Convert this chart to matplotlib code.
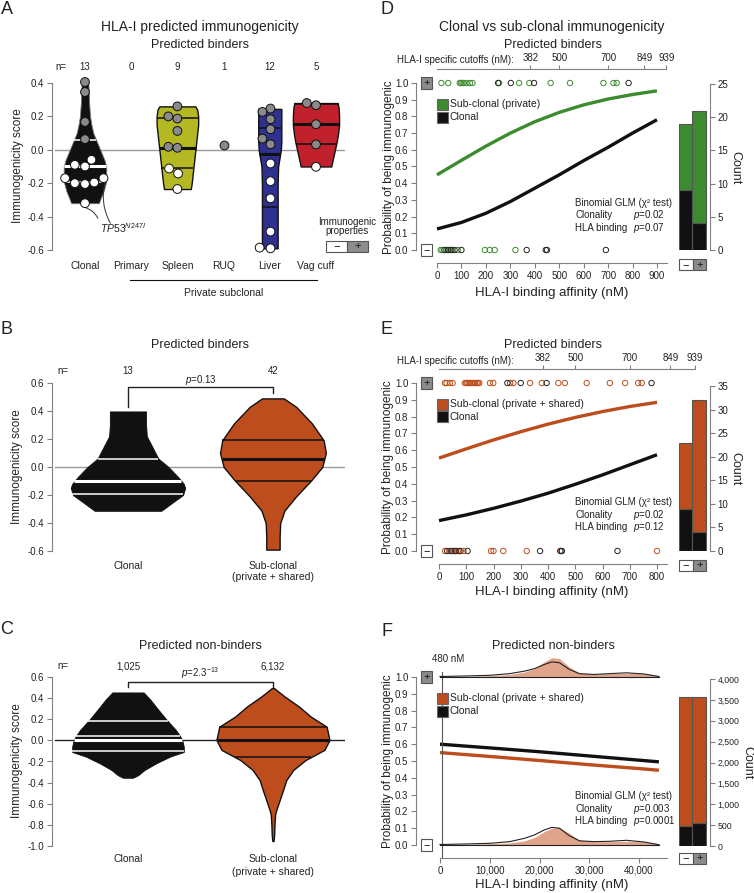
import numpy as np
import matplotlib
matplotlib.use('Agg')
import matplotlib.pyplot as plt
from matplotlib.patches import Rectangle

plt.rcParams['font.family'] = ['Liberation Sans', 'DejaVu Sans']
plt.rcParams['axes.unicode_minus'] = False
plt.rcParams['mathtext.fontset'] = 'custom'
plt.rcParams['mathtext.it'] = 'Liberation Sans:italic'
plt.rcParams['mathtext.rm'] = 'Liberation Sans'

# ---------------- data ----------------
BLACK = '#111111'
ORANGE = '#bd4d1c'
GREEN = '#3d8b2f'
SALMON = '#e0a48b'
GREYPT = '#8a8a8a'

# panel A
cats_a = ['Clonal', 'Primary', 'Spleen', 'RUQ', 'Liver', 'Vag cuff']
n_a = ['13', '0', '9', '1', '12', '5']
ticks_a = [-0.6, -0.4, -0.2, 0.0, 0.2, 0.4]

clonal_score = [0.406, 0.346, 0.167, 0.064, -0.09, -0.10, -0.06, -0.17, -0.20, -0.205, -0.196, -0.17, -0.32]
clonal_jit = [0, 0, 0, 0, -0.22, 0.0, 0.14, -0.43, -0.22, 0.0, 0.2, 0.4, 0.0]
clonal_imm = [1, 1, 1, 1, 0, 0, 0, 0, 0, 0, 0, 0, 0]
spleen_score = [0.26, 0.20, 0.187, 0.113, 0.018, 0.012, -0.112, -0.142, -0.235]
spleen_jit = [0, -0.195, 0, 0, -0.195, 0, -0.18, 0.015, 0]
spleen_imm = [1, 1, 1, 1, 1, 1, 0, 0, 0]
ruq_score = [0.026]
ruq_jit = [0]
ruq_imm = [1]
liver_score = [0.247, 0.227, 0.183, 0.123, 0.067, 0.033, -0.082, -0.188, -0.291, -0.49, -0.586, -0.59]
liver_jit = [0.015, -0.16, 0.015, 0.015, -0.16, 0.015, 0.015, 0.015, 0.015, 0.015, -0.22, 0.015]
liver_imm = [1, 1, 1, 1, 1, 1, 0, 0, 0, 0, 0, 0]
vag_score = [0.28, 0.267, 0.153, 0.032, -0.102]
vag_jit = [-0.2, 0, 0, 0, 0]
vag_imm = [1, 1, 1, 1, 0]

# violin outlines (score, half width) and quartiles (q1, median, q3)
a_clonal_vy = [-0.32, -0.29, -0.25, -0.20, -0.15, -0.10, -0.06, -0.02, 0.02, 0.06, 0.10, 0.15, 0.20, 0.28, 0.35, 0.415]
a_clonal_vw = [0.30, 0.34, 0.40, 0.45, 0.46, 0.46, 0.42, 0.36, 0.30, 0.24, 0.18, 0.14, 0.11, 0.09, 0.08, 0.07]
a_clonal_q = [-0.19, -0.10, 0.06]
a_spleen_vy = [-0.235, -0.20, -0.15, -0.10, -0.05, 0.0, 0.05, 0.10, 0.15, 0.20, 0.24, 0.26]
a_spleen_vw = [0.29, 0.31, 0.33, 0.35, 0.37, 0.39, 0.41, 0.43, 0.45, 0.45, 0.43, 0.39]
a_spleen_q = [-0.11, 0.01, 0.19]
a_liver_vy = [-0.59, -0.4, -0.2, -0.1, -0.05, 0.0, 0.05, 0.15, 0.245]
a_liver_vw = [0.17, 0.17, 0.17, 0.18, 0.21, 0.24, 0.25, 0.25, 0.25]
a_liver_q = [-0.34, -0.025, 0.13]
a_vag_vy = [-0.10, -0.05, 0.0, 0.05, 0.10, 0.15, 0.20, 0.25, 0.28]
a_vag_vw = [0.33, 0.37, 0.41, 0.45, 0.48, 0.50, 0.50, 0.49, 0.47]
a_vag_q = [0.033, 0.155, 0.275]

# panel B
cats_bc = ['Clonal', 'Sub-clonal\n(private + shared)']
n_b = ['13', '42']
ticks_b = [-0.6, -0.4, -0.2, 0.0, 0.2, 0.4, 0.6]
b_clonal_vy = [-0.313, -0.26, -0.20, -0.15, -0.12, -0.07, 0.0, 0.06, 0.10, 0.16, 0.22, 0.30, 0.397]
b_clonal_vw = [0.23, 0.30, 0.38, 0.395, 0.385, 0.345, 0.28, 0.21, 0.19, 0.16, 0.13, 0.125, 0.125]
b_clonal_q = [-0.19, -0.10, 0.06]
b_sub_vy = [-0.59, -0.50, -0.40, -0.31, -0.21, -0.094, 0.0, 0.1, 0.19, 0.31, 0.43, 0.49]
b_sub_vw = [0.046, 0.046, 0.05, 0.08, 0.16, 0.265, 0.34, 0.365, 0.35, 0.27, 0.16, 0.075]
b_sub_q = [-0.10, 0.055, 0.19]

# panel C
n_c = ['1,025', '6,132']
ticks_c = [-1.0, -0.8, -0.6, -0.4, -0.2, 0.0, 0.2, 0.4, 0.6]
c_clonal_vy = [-0.354, -0.33, -0.28, -0.217, -0.154, -0.11, -0.06, 0.0, 0.04, 0.10, 0.19, 0.29, 0.385, 0.454]
c_clonal_vw = [0.035, 0.07, 0.115, 0.195, 0.29, 0.385, 0.385, 0.375, 0.36, 0.33, 0.27, 0.21, 0.155, 0.108]
c_clonal_q = [-0.10, 0.0, 0.04, 0.18]
c_sub_vy = [-0.953, -0.90, -0.79, -0.70, -0.66, -0.566, -0.47, -0.376, -0.28, -0.186, -0.09, 0.004, 0.13, 0.226, 0.32, 0.416, 0.47, 0.495]
c_sub_vw = [0.004, 0.008, 0.011, 0.015, 0.023, 0.046, 0.07, 0.092, 0.14, 0.225, 0.355, 0.39, 0.37, 0.26, 0.18, 0.08, 0.03, 0.008]
c_sub_q = [-0.16, 0.0, 0.13]

# panels D-F
cutoffs = [382, 500, 700, 849, 939]
prob_ticks = [0.0, 0.1, 0.2, 0.3, 0.4, 0.5, 0.6, 0.7, 0.8, 0.9, 1.0]

d_curve_x = [0, 100, 200, 300, 400, 500, 600, 700, 800, 900]
d_sub_curve = [0.45, 0.537, 0.622, 0.70, 0.768, 0.824, 0.869, 0.904, 0.931, 0.953]
d_clonal_curve = [0.126, 0.165, 0.22, 0.29, 0.37, 0.45, 0.535, 0.615, 0.70, 0.78]
d_sub_pos = [18, 46, 93, 98, 104, 110, 121, 135, 145, 254, 336, 378, 465, 544, 681, 722, 735]
d_clonal_pos = [250, 302, 397, 784]
d_sub_neg = [15, 22, 38, 52, 63, 85, 196, 216, 236, 321]
d_clonal_neg = [30, 45, 58, 72, 100, 367, 445, 450, 691]
d_bar_clonal = [9, 4]
d_bar_sub = [10, 17]

e_curve_x = [0, 100, 200, 300, 400, 500, 600, 700, 800]
e_sub_curve = [0.553, 0.608, 0.661, 0.71, 0.755, 0.795, 0.83, 0.86, 0.885]
e_clonal_curve = [0.181, 0.215, 0.254, 0.297, 0.344, 0.397, 0.453, 0.513, 0.573]
e_sub_pos = [22, 28, 40, 50, 95, 100, 104, 109, 114, 120, 126, 132, 138, 143, 148, 187, 199,
             261, 273, 334, 377, 438, 462, 542, 627, 683, 731, 744]
e_clonal_pos = [251, 300, 395, 780]
e_sub_neg = [22, 38, 50, 55, 62, 68, 80, 90, 191, 200, 236, 322, 449, 800]
e_clonal_neg = [30, 45, 60, 75, 105, 371, 445, 451, 655]
e_bar_clonal = [9, 4]
e_bar_sub = [14, 28]

f_curve_x = [0, 10000, 20000, 30000, 40000, 44000]
f_clonal_curve = [0.60, 0.578, 0.555, 0.53, 0.505, 0.495]
f_sub_curve = [0.55, 0.527, 0.503, 0.478, 0.455, 0.445]
f_dens_x = [0, 5000, 10000, 14000, 17000, 19000, 21000, 22500, 24000, 26000, 28000, 31000, 34000, 37500, 41000, 44000]
f_pos_clonal = [0.003, 0.006, 0.01, 0.02, 0.035, 0.05, 0.075, 0.09, 0.085, 0.045, 0.02, 0.015, 0.02, 0.025, 0.018, 0.003]
f_pos_sub = [0.002, 0.004, 0.008, 0.015, 0.03, 0.05, 0.09, 0.115, 0.11, 0.06, 0.025, 0.018, 0.02, 0.022, 0.02, 0.008]
f_neg_clonal = [0.003, 0.006, 0.01, 0.02, 0.04, 0.06, 0.09, 0.105, 0.1, 0.055, 0.025, 0.02, 0.022, 0.028, 0.018, 0.002]
f_neg_sub = [0.002, 0.004, 0.008, 0.012, 0.025, 0.045, 0.08, 0.1, 0.105, 0.07, 0.03, 0.02, 0.02, 0.022, 0.02, 0.008]
f_bar_clonal = [480, 545]
f_bar_sub = [3100, 3032]

# ---------------- helpers ----------------
W, H = 754, 893
fig = plt.figure(figsize=(W / 100, H / 100), dpi=100)
SPINE = '#808080'
TXT = '#222222'


def axes_px(x0, y0, x1, y1):
    return fig.add_axes([x0 / W, 1 - y1 / H, (x1 - x0) / W, (y1 - y0) / H])


def text_px(x, y, s, **kw):
    kw.setdefault('ha', 'center')
    kw.setdefault('va', 'center')
    kw.setdefault('color', TXT)
    fig.text(x / W, 1 - y / H, s, **kw)


def box_px(xc, yc, sign, w=12, h=12):
    fc = '#8c8c8c' if sign == '+' else 'white'
    fig.add_artist(Rectangle(((xc - w / 2) / W, 1 - (yc + h / 2) / H), w / W, h / H,
                             transform=fig.transFigure, facecolor=fc, edgecolor='#555555', lw=0.8))
    text_px(xc, yc, '+' if sign == '+' else '\u2212', fontsize=8, color='#111111')


def square_px(x, y, color, label):
    fig.add_artist(Rectangle((x / W, 1 - (y + 5.5) / H), 11 / W, 11 / H, transform=fig.transFigure,
                             facecolor=color, edgecolor='#666666', lw=0.8))
    text_px(x + 13, y, label, ha='left', fontsize=7.5)


def violin_axes(ax, ticks):
    for s in ['top', 'right', 'bottom']:
        ax.spines[s].set_visible(False)
    ax.spines['left'].set_bounds(ticks[0], ticks[-1])
    ax.spines['left'].set_color(SPINE)
    ax.set_yticks(ticks)
    ax.set_yticklabels([f'{t:.1f}' for t in ticks])
    ax.set_xticks([])
    ax.patch.set_visible(False)
    ax.tick_params(axis='y', length=3.5, width=0.8, color=SPINE, labelsize=7, pad=2, labelcolor=TXT)


def draw_violin(ax, pos, vy, vw, face, edge, lw, quart, qcolor, med=1):
    vy = np.asarray(vy)
    vw = np.asarray(vw)
    ax.fill_betweenx(vy, pos - vw, pos + vw, facecolor=face, edgecolor=edge, linewidth=lw, zorder=2)
    for k, q in enumerate(quart):
        w = np.interp(q, vy, vw)
        ax.plot([pos - w, pos + w], [q, q], color=qcolor, lw=2.2 if k == med else 1.1,
                zorder=3, solid_capstyle='butt')


def points(ax, pos, score, jit, imm, s=40):
    x = pos + np.asarray(jit)
    col = [GREYPT if v else 'white' for v in imm]
    ax.scatter(x, score, s=s, c=col, edgecolors='#111111', linewidths=0.7, zorder=5, clip_on=False)


def prob_axes(top, bottom, one_px, zero_px, zero_x, scale, xticks, xlabels):
    ax = axes_px(416, top, 667, bottom)
    ax.set_xlim(-(zero_x - 416) / scale, (667 - zero_x) / scale)
    unit = zero_px - one_px
    ax.set_ylim(-(bottom - zero_px) / unit, 1 + (one_px - top) / unit)
    ax.spines['top'].set_visible(False)
    ax.spines['right'].set_visible(False)
    ax.spines['left'].set_bounds(0, 1)
    ax.spines['bottom'].set_bounds(0, (667 - zero_x) / scale)
    for s in ['left', 'bottom']:
        ax.spines[s].set_color(SPINE)
    ax.set_yticks(prob_ticks)
    ax.set_yticklabels([f'{t:.1f}' for t in prob_ticks])
    ax.set_xticks(xticks)
    ax.set_xticklabels(xlabels)
    ax.patch.set_visible(False)
    ax.tick_params(length=3.5, width=0.8, color=SPINE, labelsize=7, pad=2, labelcolor=TXT)
    box_px(426.5, one_px, '+', w=12, h=12)
    box_px(426.5, zero_px, '-', w=12, h=12)
    return ax


def cutoff_axis(ypx, zero_x, scale):
    ax = axes_px(zero_x, ypx, zero_x + 945 * scale, ypx + 1)
    ax.set_xlim(0, 945)
    for s in ['left', 'right', 'bottom']:
        ax.spines[s].set_visible(False)
    ax.spines['top'].set_bounds(0, cutoffs[-1])
    ax.spines['top'].set_color(SPINE)
    ax.set_yticks([])
    ax.set_xticks(cutoffs)
    ax.set_xticklabels([str(c) for c in cutoffs])
    ax.tick_params(axis='x', top=True, labeltop=True, bottom=False, labelbottom=False,
                   length=3, width=0.8, color=SPINE, labelsize=7, pad=1.5, labelcolor=TXT)
    ax.patch.set_visible(False)


def count_axes(top_px, bottom_px, ymax, ticks, labels, clonal, sub, subcolor, box_y, lsize=7):
    ax = axes_px(679, top_px, 710, bottom_px)
    ax.set_ylim(0, ymax)
    ax.set_xlim(-0.5, 1.8)
    ax.bar([0, 1], clonal, width=1, color=BLACK, edgecolor='#555555', lw=0.8)
    ax.bar([0, 1], sub, bottom=clonal, width=1, color=subcolor, edgecolor='#555555', lw=0.8)
    for s in ['left', 'top', 'bottom']:
        ax.spines[s].set_visible(False)
    ax.spines['right'].set_color(SPINE)
    ax.yaxis.tick_right()
    ax.set_yticks(ticks)
    ax.set_yticklabels(labels)
    ax.set_xticks([])
    ax.patch.set_visible(False)
    ax.tick_params(axis='y', length=3.5, width=0.8, color=SPINE, labelsize=lsize, pad=2, labelcolor=TXT)
    box_px(685.75, box_y, '-', w=13.5, h=11)
    box_px(699.25, box_y, '+', w=13.5, h=11)


def stats_px(y0, p1, p2):
    text_px(575, y0, 'Binomial GLM (\u03c7\u00b2 test)', ha='left', fontsize=7)
    text_px(575, y0 + 12.5, 'Clonality', ha='left', fontsize=7)
    text_px(633, y0 + 12.5, '$p$=' + p1, ha='left', fontsize=7)
    text_px(575, y0 + 25, 'HLA binding', ha='left', fontsize=7)
    text_px(633, y0 + 25, '$p$=' + p2, ha='left', fontsize=7)


def hollow(ax, x, y, color):
    ax.scatter(x, [y] * len(x), s=15, facecolors='none', edgecolors=color, linewidths=0.7,
               zorder=4, clip_on=False)


# ---------------- panel A ----------------
axA = axes_px(52, 78, 345, 253.3)
axA.set_xlim(-0.714, 5.628)
axA.set_ylim(-0.62, 0.43)
violin_axes(axA, ticks_a)
axA.plot([-0.65, 5.628], [0, 0], color='#9a9a9a', lw=1, zorder=1)
draw_violin(axA, 0, a_clonal_vy, a_clonal_vw, BLACK, '#777777', 0.6, a_clonal_q, 'white')
draw_violin(axA, 2, a_spleen_vy, a_spleen_vw, '#b3b823', BLACK, 1.0, a_spleen_q, BLACK)
draw_violin(axA, 4, a_liver_vy, a_liver_vw, '#2e3190', BLACK, 1.0, a_liver_q, BLACK)
draw_violin(axA, 5, a_vag_vy, a_vag_vw, '#c0212c', BLACK, 1.0, a_vag_q, BLACK)
points(axA, 0, clonal_score, clonal_jit, clonal_imm)
points(axA, 2, spleen_score, spleen_jit, spleen_imm)
points(axA, 3, ruq_score, ruq_jit, ruq_imm)
points(axA, 4, liver_score, liver_jit, liver_imm)
points(axA, 5, vag_score, vag_jit, vag_imm)
axA.text(-0.52, 0.496, 'n=', ha='center', va='center', fontsize=7, color=TXT)
for i, c in enumerate(cats_a):
    axA.text(i, 0.496, n_a[i], ha='center', va='center', fontsize=7, color=TXT)
    axA.text(i, -0.696, c, ha='center', va='center', fontsize=7.5, color=TXT)
axA.plot([0.97, 5.02], [-0.78, -0.78], color=BLACK, lw=0.8, clip_on=False)
axA.text(3, -0.857, 'Private subclonal', ha='center', va='center', fontsize=7.5, color=TXT)
axA.annotate('$TP53^{N247I}$', xy=(0.0, -0.345), xytext=(0.32, -0.468), fontsize=7.5,
             ha='left', va='center', color=TXT,
             arrowprops=dict(arrowstyle='-', color='#333333', lw=0.7, shrinkA=0, shrinkB=0,
                             connectionstyle='arc3,rad=0.35', relpos=(0, 0.5)))
axA.annotate('', xy=(0.44, -0.19), xytext=(0.55, -0.44),
             arrowprops=dict(arrowstyle='-', color='#333333', lw=0.7, shrinkA=0, shrinkB=0,
                             connectionstyle='arc3,rad=-0.2'))

text_px(7, 9, 'A', fontsize=13)
text_px(200, 27, 'HLA-I predicted immunogenicity', fontsize=10)
text_px(200, 45, 'Predicted binders', fontsize=9)
text_px(18, 166, 'Immunogenicity score', rotation=90, fontsize=8.5)
text_px(347, 222, 'Immunogenic', fontsize=7)
text_px(347, 231, 'properties', fontsize=7)
box_px(336.5, 246, '-', w=21, h=11)
box_px(357.5, 246, '+', w=21, h=11)

# ---------------- panel B ----------------
axB = axes_px(52, 380.2, 345, 553.8)
axB.set_xlim(-0.524, 1.497)
axB.set_ylim(-0.62, 0.62)
violin_axes(axB, ticks_b)
axB.plot([-0.503, 1.497], [0, 0], color='#9a9a9a', lw=1, zorder=1)
draw_violin(axB, 0, b_clonal_vy, b_clonal_vw, BLACK, BLACK, 0.6, b_clonal_q, 'white')
draw_violin(axB, 1, b_sub_vy, b_sub_vw, ORANGE, BLACK, 1.0, b_sub_q, BLACK)
axB.plot([0, 0, 1, 1], [0.429, 0.571, 0.571, 0.529], color='#222222', lw=1, clip_on=False)
axB.text(0.5, 0.621, '$p$=0.13', ha='center', va='center', fontsize=7, color=TXT)
axB.text(-0.45, 0.686, 'n=', ha='center', va='center', fontsize=7, color=TXT)
for i in range(2):
    axB.text(i, 0.686, n_b[i], ha='center', va='center', fontsize=7, color=TXT)
for i, c in enumerate(cats_bc):
    for j, line in enumerate(c.split('\n')):
        text_px(128 + 145 * i, 566 + 11.5 * j, line, fontsize=7.5)
text_px(7, 330, 'B', fontsize=13)
text_px(200, 345, 'Predicted binders', fontsize=9)
text_px(17, 467, 'Immunogenicity score', rotation=90, fontsize=8.5)

# ---------------- panel C ----------------
axC = axes_px(52, 674.9, 345, 848.1)
axC.set_xlim(-0.524, 1.497)
axC.set_ylim(-1.02, 0.62)
violin_axes(axC, ticks_c)
draw_violin(axC, 0, c_clonal_vy, c_clonal_vw, BLACK, BLACK, 0.6, c_clonal_q, 'white')
draw_violin(axC, 1, c_sub_vy, c_sub_vw, ORANGE, BLACK, 1.0, c_sub_q, BLACK)
axC.plot([-0.503, 1.497], [0, 0], color='#222222', lw=1, zorder=2.5)
axC.plot([0, 0, 1, 1], [0.505, 0.553, 0.553, 0.505], color='#222222', lw=1, clip_on=False)
axC.text(0.5, 0.638, '$p$=2.3$^{-13}$', ha='center', va='center', fontsize=7, color=TXT)
axC.text(-0.45, 0.704, 'n=', ha='center', va='center', fontsize=7, color=TXT)
for i in range(2):
    axC.text(i, 0.704, n_c[i], ha='center', va='center', fontsize=7, color=TXT)
for i, c in enumerate(cats_bc):
    for j, line in enumerate(c.split('\n')):
        text_px(128 + 145 * i, 859 + 13 * j, line, fontsize=7.5)
text_px(7, 630, 'C', fontsize=13)
text_px(200, 646, 'Predicted non-binders', fontsize=9)
text_px(17, 761, 'Immunogenicity score', rotation=90, fontsize=8.5)

# ---------------- panel D ----------------
axD = prob_axes(69, 263, 83, 250, 437, 0.2444, d_curve_x, [str(v) for v in d_curve_x])
axD.plot(d_curve_x, d_sub_curve, color=GREEN, lw=2.4, solid_capstyle='butt')
axD.plot(d_curve_x, d_clonal_curve, color=BLACK, lw=2.4, solid_capstyle='butt')
hollow(axD, d_sub_pos, 1.0, GREEN)
hollow(axD, d_clonal_pos, 1.0, '#222222')
hollow(axD, d_sub_neg, 0.0, GREEN)
hollow(axD, d_clonal_neg, 0.0, '#222222')
cutoff_axis(69, 437, 0.2444)
text_px(397, 60, 'HLA-I specific cutoffs (nM):', ha='left', fontsize=7)
count_axes(84, 250, 25, [0, 5, 10, 15, 20, 25], ['0', '5', '10', '15', '20', '25'],
           d_bar_clonal, d_bar_sub, GREEN, 265)
text_px(735, 168, 'Count', rotation=270, fontsize=9)
square_px(437, 104, GREEN, 'Sub-clonal (private)')
square_px(437, 117, BLACK, 'Clonal')
stats_px(203, '0.02', '0.07')
text_px(387, 9, 'D', fontsize=13)
text_px(552, 27, 'Clonal vs sub-clonal immunogenicity', fontsize=10)
text_px(553, 45, 'Predicted binders', fontsize=9)
text_px(389, 167, 'Probability of being immunogenic', rotation=90, fontsize=8.5)
text_px(552, 293, 'HLA-I binding affinity (nM)', fontsize=9.5)

# ---------------- panel E ----------------
axE = prob_axes(369, 564, 383, 551, 439, 0.2725, e_curve_x, [str(v) for v in e_curve_x])
axE.plot(e_curve_x, e_sub_curve, color=ORANGE, lw=2.4, solid_capstyle='butt')
axE.plot(e_curve_x, e_clonal_curve, color=BLACK, lw=2.4, solid_capstyle='butt')
hollow(axE, e_sub_pos, 1.0, ORANGE)
hollow(axE, e_clonal_pos, 1.0, '#222222')
hollow(axE, e_sub_neg, 0.0, ORANGE)
hollow(axE, e_clonal_neg, 0.0, '#222222')
cutoff_axis(369, 439, 0.2725)
text_px(397, 361, 'HLA-I specific cutoffs (nM):', ha='left', fontsize=7)
count_axes(386, 551, 35, [0, 5, 10, 15, 20, 25, 30, 35], ['0', '5', '10', '15', '20', '25', '30', '35'],
           e_bar_clonal, e_bar_sub, ORANGE, 565)
text_px(735, 469, 'Count', rotation=270, fontsize=9)
square_px(437, 404, ORANGE, 'Sub-clonal (private + shared)')
square_px(437, 417, BLACK, 'Clonal')
stats_px(502, '0.02', '0.12')
text_px(387, 330, 'E', fontsize=13)
text_px(553, 345, 'Predicted binders', fontsize=9)
text_px(388, 467, 'Probability of being immunogenic', rotation=90, fontsize=8.5)
text_px(552, 592, 'HLA-I binding affinity (nM)', fontsize=9.5)

# ---------------- panel F ----------------
f_ticks = [0, 10000, 20000, 30000, 40000]
axF = prob_axes(650, 858, 677, 845, 440, 0.004975, f_ticks, [f'{v:,}' for v in f_ticks])
fx = np.asarray(f_dens_x)
axF.fill_between(fx, 1.0, 1.0 + np.asarray(f_pos_sub), color=SALMON, lw=0, zorder=2)
axF.plot(fx, 1.0 + np.asarray(f_pos_clonal), color='#222222', lw=0.8, zorder=3)
axF.plot([fx[0], fx[-1]], [1.0, 1.0], color='#222222', lw=0.8, zorder=3)
axF.fill_between(fx, 0.0, np.asarray(f_neg_sub), color=SALMON, lw=0, zorder=2)
axF.plot(fx, np.asarray(f_neg_clonal), color='#222222', lw=0.8, zorder=3)
axF.plot([fx[0], fx[-1]], [0.0, 0.0], color='#222222', lw=0.8, zorder=3)
axF.plot(f_curve_x, f_clonal_curve, color=BLACK, lw=2.4, solid_capstyle='butt')
axF.plot(f_curve_x, f_sub_curve, color=ORANGE, lw=2.4, solid_capstyle='butt')
axF.plot([480, 480], [-0.077, 1.03], color='#555555', lw=0.8, clip_on=False)
text_px(448, 659, '480 nM', fontsize=7)
count_axes(679, 846, 4000, list(range(0, 4001, 500)), [f'{v:,}' for v in range(0, 4001, 500)],
           f_bar_clonal, f_bar_sub, ORANGE, 858.5, lsize=6.3)
text_px(747, 763, 'Count', rotation=270, fontsize=9)
square_px(437, 698, ORANGE, 'Sub-clonal (private + shared)')
square_px(437, 711.5, BLACK, 'Clonal')
stats_px(796, '0.003', '0.0001')
text_px(387, 632, 'F', fontsize=13)
text_px(553, 646, 'Predicted non-binders', fontsize=9)
text_px(388, 761, 'Probability of being immunogenic', rotation=90, fontsize=8.5)
text_px(552, 885, 'HLA-I binding affinity (nM)', fontsize=9.5)

fig.savefig('out.png', dpi=100)
